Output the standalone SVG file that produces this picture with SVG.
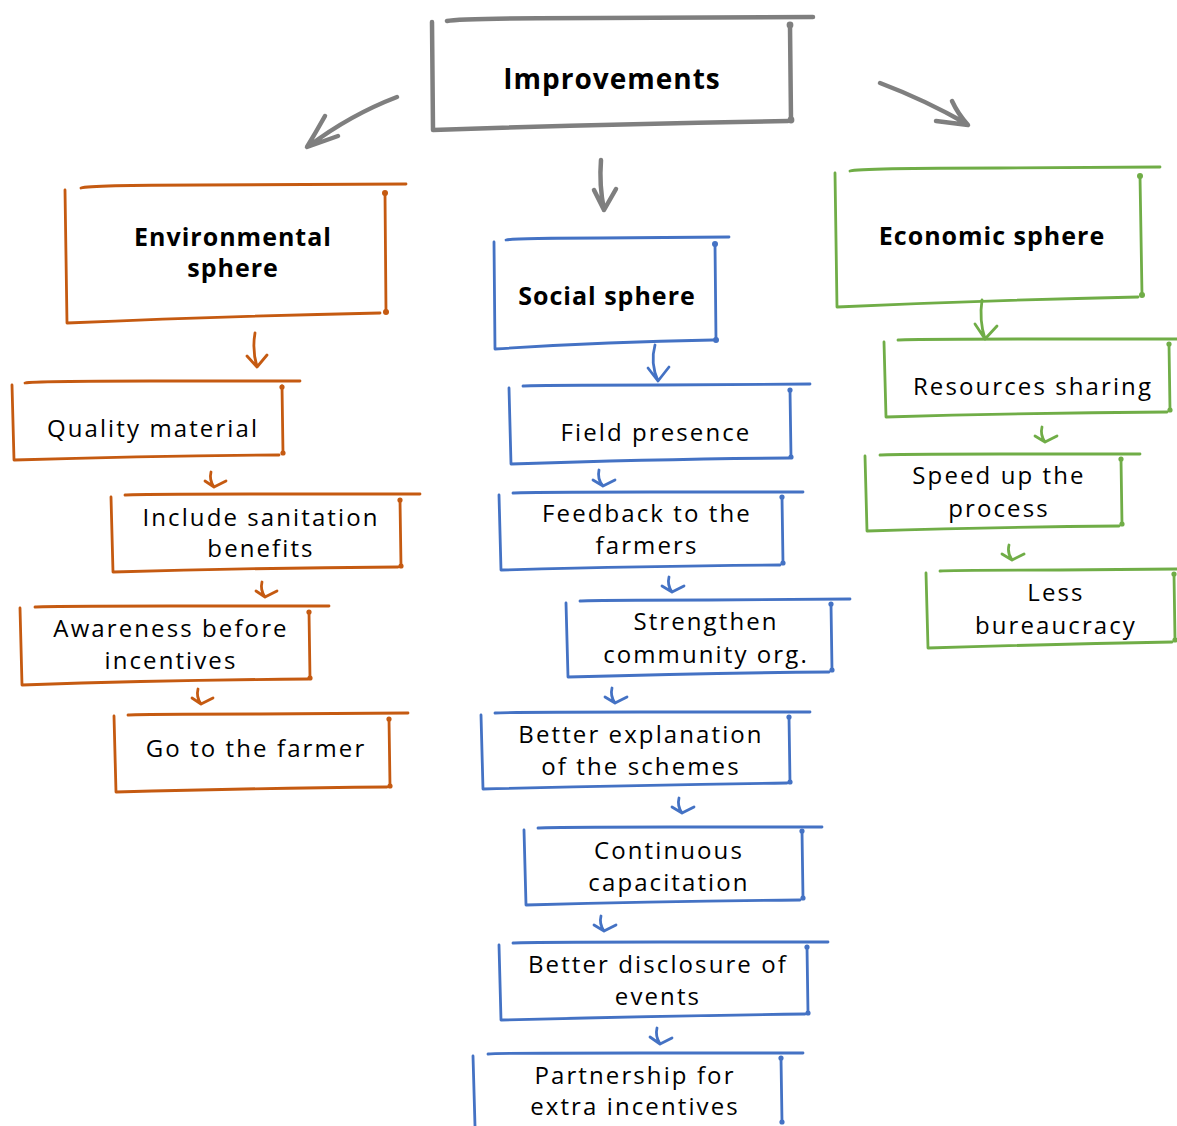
<svg xmlns="http://www.w3.org/2000/svg" width="1177" height="1126" viewBox="0 0 1177 1126">
<style>
  .bx{fill:none;stroke-linecap:round;stroke-linejoin:round}
  .g{stroke:#7f7f7f;stroke-width:4.5}
  .o{stroke:#c55a11;stroke-width:2.8}
  .b{stroke:#4472c4;stroke-width:2.8}
  .gr{stroke:#70ad47;stroke-width:2.8}
  .ar{fill:none;stroke-linecap:round;stroke-linejoin:round}
  .dg{fill:#7f7f7f}.do{fill:#c55a11}.db{fill:#4472c4}.dgr{fill:#70ad47}
  text{font-family:"Open Sans","DejaVu Sans",sans-serif;fill:#000;text-anchor:middle;letter-spacing:1px}
  .t{font-size:24px;letter-spacing:2.1px}
  .h{font-size:25px;font-weight:bold}
  .hh{font-size:28px;font-weight:bold}
</style>
<rect width="1177" height="1126" fill="#fff"/>

<g id="connectors">
  <path class="ar g" d="M397,97 Q350,115 309,146 M325,116 Q316,132 307,147 L338,136"/>
  <path class="ar g" d="M601,160 Q599,185 604,210 M594,190 L604,210 L616,189"/>
  <path class="ar g" d="M880,83 Q925,100 967,124 M952,101 Q958,114 968,125 L936,121"/>
  <path class="ar o" d="M255,333 Q252,350 257,367 M247,356 L257,367 L267,355" stroke="#9c4a14"/>
  <path class="ar o" d="M211,472 Q209,480 214,487 M205,481 L214,487 L226,481" stroke="#9c4a14"/>
  <path class="ar o" d="M262,582 Q260,590 265,597 M256,591 L265,597 L277,591" stroke="#9c4a14"/>
  <path class="ar o" d="M198,689 Q196,697 201,704 M192,698 L201,704 L213,698" stroke="#9c4a14"/>
  <path class="ar b" d="M655,345 Q650,363 658,381 M648,368 L658,381 L669,367" stroke="#2f5597"/>
  <path class="ar b" d="M599,470 Q597,479 603,486 M593,480 L603,486 L615,480" stroke="#2f5597"/>
  <path class="ar b" d="M669,577 Q667,585 672,592 M662,586 L672,592 L684,586" stroke="#2f5597"/>
  <path class="ar b" d="M612,688 Q610,696 615,703 M605,697 L615,703 L627,697" stroke="#2f5597"/>
  <path class="ar b" d="M679,798 Q677,806 682,813 M672,807 L682,813 L694,807" stroke="#2f5597"/>
  <path class="ar b" d="M601,916 Q599,924 604,931 M594,925 L604,931 L616,925" stroke="#2f5597"/>
  <path class="ar b" d="M657,1028 Q655,1036 660,1044 M650,1037 L660,1044 L672,1038" stroke="#2f5597"/>
  <path class="ar gr" d="M982,300 Q979,320 985,339 M975,324 L985,339 L997,326" stroke="#548235"/>
  <path class="ar gr" d="M1042,427 Q1040,435 1045,442 M1035,436 L1045,442 L1057,436" stroke="#548235"/>
  <path class="ar gr" d="M1009,545 Q1007,553 1012,560 M1002,554 L1012,560 L1024,554" stroke="#548235"/>
</g>

<g id="n-improvements">
  <path class="bx g" d="M432,22 L433,130 M447,21 Q460,18 600,18 L813,17 M790,26 L791,120 M433,130 Q600,124 788,121"/>
  <circle class="dg" cx="790" cy="25" r="3.4"/><circle class="dg" cx="791" cy="120" r="3.4"/>
  <text class="hh" x="612" y="89">Improvements</text>
</g>

<g id="n-env">
  <path class="bx o" d="M65,190 L67,323 M81,188 Q90,185 200,185 L406,184 M385,193 L386,312 M67,323 Q230,316 380,313"/>
  <circle class="do" cx="385" cy="193" r="3"/><circle class="do" cx="386" cy="312" r="3"/>
  <text class="h" x="233" y="246">Environmental</text>
  <text class="h" x="233" y="277">sphere</text>
</g>
<g id="n-social">
  <path class="bx b" d="M494,242 L495,349 M506,240 Q515,238 600,238 L729,237 M715,244 L716,340 M495,349 Q600,342 713,340"/>
  <circle class="db" cx="715" cy="244" r="3"/><circle class="db" cx="716" cy="340" r="3"/>
  <text class="h" x="607" y="305">Social sphere</text>
</g>
<g id="n-econ">
  <path class="bx gr" d="M835,173 L837,307 M850,171 Q860,168 1000,168 L1160,167 M1140,176 L1142,295 M837,307 Q990,300 1138,297"/>
  <circle class="dgr" cx="1140" cy="176" r="3"/><circle class="dgr" cx="1142" cy="295" r="3"/>
  <text class="h" x="992" y="245">Economic sphere</text>
</g>

<g id="n-quality">
  <path class="bx o" d="M12,385 L14,460 M25,383 Q35,381 150,381 L300,381 M282,386 L283,453 M14,460 Q150,456 279,455"/>
  <circle class="do" cx="282" cy="387" r="2.6"/><circle class="do" cx="283" cy="453" r="2.6"/>
  <text class="t" x="153" y="437">Quality material</text>
</g>
<g id="n-sanitation">
  <path class="bx o" d="M111,497 L113,572 M125,495 Q135,494 250,494 L420,494 M400,500 L401,566 M113,572 Q250,568 398,567"/>
  <circle class="do" cx="400" cy="500" r="2.6"/><circle class="do" cx="401" cy="566" r="2.6"/>
  <text class="t" x="261" y="526">Include sanitation</text>
  <text class="t" x="261" y="557">benefits</text>
</g>
<g id="n-awareness">
  <path class="bx o" d="M20,608 L22,685 M35,607 Q45,606 170,606 L329,606 M309,612 L310,678 M22,685 Q170,680 308,679"/>
  <circle class="do" cx="309" cy="612" r="2.6"/><circle class="do" cx="310" cy="678" r="2.6"/>
  <text class="t" x="171" y="637">Awareness before</text>
  <text class="t" x="171" y="669">incentives</text>
</g>
<g id="n-farmer">
  <path class="bx o" d="M114,716 L116,792 M128,715 Q138,714 260,714 L408,713 M389,719 L390,786 M116,792 Q260,788 387,787"/>
  <circle class="do" cx="389" cy="719" r="2.6"/><circle class="do" cx="390" cy="786" r="2.6"/>
  <text class="t" x="256" y="757">Go to the farmer</text>
</g>

<g id="n-field">
  <path class="bx b" d="M509,388 L511,464 M523,386 Q533,385 660,385 L810,384 M790,390 L791,457 M511,464 Q660,459 789,458"/>
  <circle class="db" cx="790" cy="390" r="2.6"/><circle class="db" cx="791" cy="457" r="2.6"/>
  <text class="t" x="656" y="441">Field presence</text>
</g>
<g id="n-feedback">
  <path class="bx b" d="M499,495 L501,570 M513,493 Q523,492 650,492 L803,492 M782,497 L783,563 M501,570 Q650,566 780,565"/>
  <circle class="db" cx="782" cy="497" r="2.6"/><circle class="db" cx="783" cy="563" r="2.6"/>
  <text class="t" x="647" y="522">Feedback to the</text>
  <text class="t" x="647" y="554">farmers</text>
</g>
<g id="n-strengthen">
  <path class="bx b" d="M566,603 L568,677 M580,601 Q590,600 710,600 L850,599 M831,604 L832,670 M568,677 Q710,673 829,672"/>
  <circle class="db" cx="831" cy="604" r="2.6"/><circle class="db" cx="832" cy="670" r="2.6"/>
  <text class="t" x="706" y="630">Strengthen</text>
  <text class="t" x="706" y="663">community org.</text>
</g>
<g id="n-explanation">
  <path class="bx b" d="M481,715 L483,789 M495,713 Q505,712 640,712 L810,712 M789,717 L790,782 M483,789 Q640,785 787,783"/>
  <circle class="db" cx="789" cy="717" r="2.6"/><circle class="db" cx="790" cy="782" r="2.6"/>
  <text class="t" x="641" y="743">Better explanation</text>
  <text class="t" x="641" y="775">of the schemes</text>
</g>
<g id="n-continuous">
  <path class="bx b" d="M524,830 L526,905 M538,828 Q548,827 670,827 L822,827 M802,831 L803,898 M526,905 Q670,901 800,900"/>
  <circle class="db" cx="802" cy="831" r="2.6"/><circle class="db" cx="803" cy="898" r="2.6"/>
  <text class="t" x="669" y="859">Continuous</text>
  <text class="t" x="669" y="891">capacitation</text>
</g>
<g id="n-disclosure">
  <path class="bx b" d="M499,945 L501,1020 M513,943 Q523,942 660,942 L828,942 M807,947 L808,1013 M501,1020 Q660,1016 805,1014"/>
  <circle class="db" cx="807" cy="947" r="2.6"/><circle class="db" cx="808" cy="1013" r="2.6"/>
  <text class="t" x="658" y="973">Better disclosure of</text>
  <text class="t" x="658" y="1005">events</text>
</g>
<g id="n-partnership">
  <path class="bx b" d="M473,1056 L475,1126 M488,1054 Q498,1053 640,1053 L803,1053 M781,1058 L782,1122"/>
  <circle class="db" cx="781" cy="1058" r="2.6"/><circle class="db" cx="782" cy="1122" r="2.6"/>
  <text class="t" x="635" y="1084">Partnership for</text>
  <text class="t" x="635" y="1115">extra incentives</text>
</g>

<g id="n-resources">
  <path class="bx gr" d="M884,342 L886,417 M898,340 Q908,339 1040,339 L1177,339 M1169,344 L1170,410 M886,417 Q1030,413 1167,412"/>
  <circle class="dgr" cx="1169" cy="344" r="2.6"/><circle class="dgr" cx="1170" cy="410" r="2.6"/>
  <text class="t" x="1033" y="395">Resources sharing</text>
</g>
<g id="n-speed">
  <path class="bx gr" d="M865,456 L867,531 M880,455 Q890,454 1000,454 L1140,454 M1121,459 L1122,524 M867,531 Q1000,527 1119,526"/>
  <circle class="dgr" cx="1121" cy="459" r="2.6"/><circle class="dgr" cx="1122" cy="524" r="2.6"/>
  <text class="t" x="999" y="484">Speed up the</text>
  <text class="t" x="999" y="517">process</text>
</g>
<g id="n-less">
  <path class="bx gr" d="M926,573 L928,648 M940,571 Q950,570 1060,570 L1177,569 M1174,574 L1175,640 M928,648 Q1060,644 1172,642"/>
  <circle class="dgr" cx="1174" cy="574" r="2.6"/><circle class="dgr" cx="1175" cy="640" r="2.6"/>
  <text class="t" x="1056" y="601">Less</text>
  <text class="t" x="1056" y="634">bureaucracy</text>
</g>
</svg>
